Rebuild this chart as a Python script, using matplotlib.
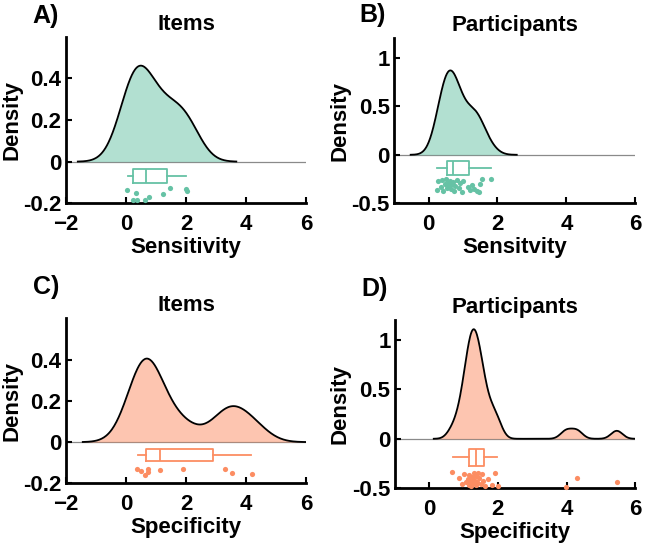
import numpy as np
import matplotlib.pyplot as plt

plt.rcParams['font.family'] = ['Liberation Sans', 'DejaVu Sans']
plt.rcParams['font.weight'] = 'bold'

green = '#66c2a5'
orange = '#fc8d62'

# A) items, sensitivity
a_vals = [0.05, 0.32, 0.23, 0.37, 0.65, 0.77, 1.23, 1.46, 2.00, 2.02]
a_jit = [-0.135, -0.15, -0.185, -0.185, -0.185, -0.17, -0.155, -0.128, -0.13, -0.14]
a_box = dict(whislo=0.07, q1=0.23, med=0.68, q3=1.38, whishi=2.01)

# B) participants, sensitivity
b_vals = [0.24, 0.28, 0.35, 0.40, 0.43, 0.48, 0.52, 0.53, 0.55, 1.25,
          0.60, 0.62, 0.64, 0.68, 0.71, 0.73, 0.77, 0.82, 0.88, 0.91,
          0.96, 1.01, 1.15, 1.20, 1.32, 1.40, 1.45, 1.49, 1.56, 1.80]
b_jit = [-0.36, -0.27, -0.33, -0.26, -0.37, -0.30, -0.25, -0.34, -0.29, -0.31,
         -0.32, -0.27, -0.35, -0.30, -0.28, -0.37, -0.32, -0.26, -0.34, -0.29,
         -0.38, -0.27, -0.33, -0.36, -0.35, -0.37, -0.38, -0.30, -0.25, -0.25]
b_box = dict(whislo=0.24, q1=0.53, med=0.72, q3=1.18, whishi=1.80)

# C) items, specificity
c_vals = [0.38, 0.50, 0.64, 0.72, 0.75, 1.14, 1.91, 3.28, 3.52, 4.19]
c_jit = [-0.13, -0.14, -0.16, -0.13, -0.145, -0.135, -0.13, -0.13, -0.148, -0.155]
c_box = dict(whislo=0.39, q1=0.67, med=1.14, q3=2.91, whishi=4.17)

# D) participants, specificity
d_vals = [0.68, 0.88, 0.95, 1.02, 1.08, 1.12, 1.15, 1.17, 1.20, 1.22,
          1.25, 1.27, 1.30, 1.32, 1.35, 1.37, 1.40, 1.43, 1.46, 1.50,
          1.54, 1.57, 1.62, 1.72, 1.82, 1.92, 2.01, 3.99, 4.30, 5.46]
d_jit = [-0.34, -0.40, -0.46, -0.36, -0.44, -0.41, -0.47, -0.37, -0.43, -0.48,
         -0.39, -0.45, -0.35, -0.42, -0.47, -0.38, -0.44, -0.35, -0.40, -0.46,
         -0.36, -0.43, -0.48, -0.41, -0.47, -0.35, -0.48, -0.485, -0.40, -0.44]
d_box = dict(whislo=0.70, q1=1.17, med=1.36, q3=1.59, whishi=1.98)

panels = [
    # label, title, xlabel, values, jitter, box, colour, bandwidth, xlim, ylim, yticks,
    # box_y, box_h, axes rect, panel label position
    ('A)', 'Items', 'Sensitivity', a_vals, a_jit, a_box, green, 0.50,
     (-2, 6), (-0.2, 0.6), [-0.2, 0, 0.2, 0.4], -0.068, 0.065,
     [0.102, 0.629, 0.373, 0.304], (0.070, 0.971)),
    ('B)', 'Participants', 'Sensitvity', b_vals, b_jit, b_box, green, 0.23,
     (-1, 6), (-0.5, 1.2), [-0.5, 0, 0.5, 1], -0.137, 0.136,
     [0.611, 0.629, 0.374, 0.301], (0.578, 0.973)),
    ('C)', 'Items', 'Specificity', c_vals, c_jit, c_box, orange, 0.55,
     (-2, 6), (-0.2, 0.6), [-0.2, 0, 0.2, 0.4], -0.062, 0.06,
     [0.102, 0.118, 0.373, 0.301], (0.071, 0.476)),
    ('D)', 'Participants', 'Specificity', d_vals, d_jit, d_box, orange, 0.165,
     (-1, 6), (-0.5, 1.2), [-0.5, 0, 0.5, 1], -0.185, 0.17,
     [0.612, 0.109, 0.373, 0.307], (0.581, 0.473)),
]

fig = plt.figure(figsize=(6.45, 5.48), dpi=100)

for lab, title, xlab, vals, jit, box, col, bw, xl, yl, yt, by, bh, rect, lpos in panels:
    ax = fig.add_axes(rect)
    v = np.array(vals)
    # gaussian kernel density
    xs = np.linspace(v.min() - 3.3 * bw, v.max() + 3.3 * bw, 300)
    dens = np.exp(-0.5 * ((xs[:, None] - v[None, :]) / bw) ** 2).sum(axis=1)
    dens /= len(v) * bw * np.sqrt(2 * np.pi)

    ax.axhline(0, color='#8a8a8a', lw=0.9, zorder=1)
    ax.fill_between(xs, 0, dens, color=col, alpha=0.5, lw=0, zorder=2)
    ax.plot(xs, dens, color='black', lw=1.3, zorder=3)

    st = dict(box, label='')
    ax.bxp([st], positions=[by], widths=[bh], vert=False, showcaps=False,
           showfliers=False, manage_ticks=False,
           boxprops=dict(color=col, lw=1.3), whiskerprops=dict(color=col, lw=1.3),
           medianprops=dict(color=col, lw=1.3))
    ax.scatter(vals, jit, s=14, color=col, lw=0, zorder=4, clip_on=False)

    ax.set_xlim(*xl)
    ax.set_ylim(*yl)
    ax.set_yticks(yt)
    ax.set_yticklabels(['%g' % t for t in yt])
    ax.set_xticks([0, 2, 4, 6] if xl[0] == -1 else [-2, 0, 2, 4, 6])
    ax.spines['top'].set_visible(False)
    ax.spines['right'].set_visible(False)
    ax.spines['left'].set_linewidth(2)
    ax.spines['bottom'].set_linewidth(2)
    ax.tick_params(direction='in', length=4, width=1.5, labelsize=16)
    ax.tick_params(axis='x', pad=8)
    ax.tick_params(axis='y', pad=3)
    ax.set_xlabel(xlab, fontsize=16, fontweight='bold', labelpad=1)
    ax.set_ylabel('Density', fontsize=16, fontweight='bold')
    ax.yaxis.set_label_coords(-0.182, 0.5)
    ax.set_title(title, fontsize=16, fontweight='bold', pad=5)
    fig.text(lpos[0], lpos[1], lab, fontsize=18, fontweight='bold',
             ha='center', va='center')

fig.savefig('out.png', dpi=100)
